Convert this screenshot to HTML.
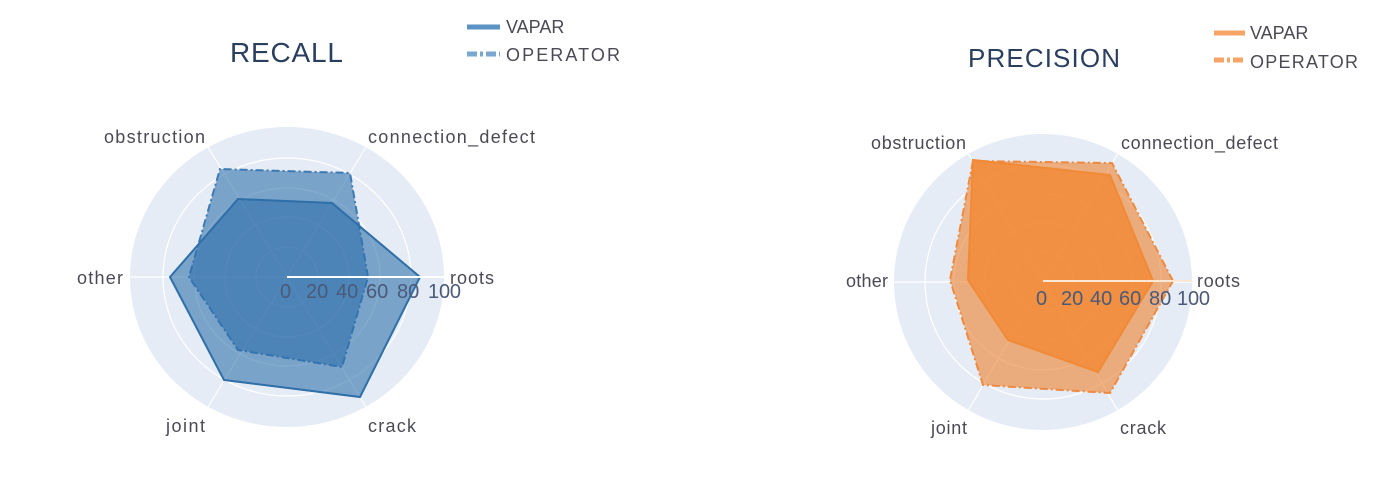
<!DOCTYPE html>
<html><head><meta charset="utf-8"><style>
html,body{margin:0;padding:0;background:#fff;}
svg{display:block;font-family:"Liberation Sans",Arial,sans-serif;}
</style></head><body>
<svg width="1394" height="480" viewBox="0 0 1394 480" xmlns="http://www.w3.org/2000/svg">
<!-- LEFT -->
<ellipse cx="287" cy="277" rx="157" ry="150" fill="#e5ecf6"/>
<g stroke="#fff" stroke-width="1.2" fill="none">
<ellipse cx="287" cy="277" rx="124" ry="119"/>
<ellipse cx="287" cy="277" rx="93" ry="89"/>
<ellipse cx="287" cy="277" rx="62" ry="60"/>
<ellipse cx="287" cy="277" rx="31" ry="30"/>
<line x1="130" y1="277" x2="444" y2="277"/>
<line x1="208" y1="147" x2="366" y2="407"/>
<line x1="366" y1="147" x2="208" y2="407"/>
</g>
<polygon points="368,277 350,173 220,169 189,277 238,350 342,367" fill="rgba(45,110,170,0.58)" stroke="#3d7ab3" stroke-width="2" stroke-dasharray="8,3,2,3"/>
<polygon points="420,277 332,203 238,199 170,277 224,380 360,397" fill="rgba(45,110,170,0.58)" stroke="#2e6fa8" stroke-width="2"/>
<line x1="287" y1="277" x2="445" y2="277" stroke="#fff" stroke-width="2"/>
<g fill="#4a5a78" font-size="20">
<text x="280" y="298">0</text><text x="306" y="298">20</text><text x="336" y="298">40</text><text x="366" y="298">60</text><text x="397" y="298">80</text><text x="428" y="298" textLength="33">100</text>
</g>
<g fill="#4a4a55" font-size="18">
<text x="104" y="143" textLength="101">obstruction</text>
<text x="368" y="143" textLength="167">connection_defect</text>
<text x="450" y="284" textLength="44">roots</text>
<text x="77" y="284" textLength="46">other</text>
<text x="166" y="432" textLength="39">joint</text>
<text x="368" y="432" textLength="48">crack</text>
</g>
<text x="230" y="62" font-size="28" fill="#2a3f5f" textLength="113">RECALL</text>
<line x1="467" y1="27" x2="500" y2="27" stroke="#5b93c4" stroke-width="5"/>
<line x1="467" y1="54" x2="500" y2="54" stroke="#7aa6cf" stroke-width="5" stroke-dasharray="10,3,3,3"/>
<g fill="#4a4a55" font-size="18"><text x="506" y="33">VAPAR</text><text x="506" y="61" textLength="114">OPERATOR</text></g>

<!-- RIGHT -->
<ellipse cx="1043" cy="282" rx="149" ry="148" fill="#e5ecf6"/>
<g stroke="#fff" stroke-width="1.2" fill="none">
<ellipse cx="1043" cy="282" rx="118" ry="117"/>
<ellipse cx="1043" cy="282" rx="89" ry="88"/>
<ellipse cx="1043" cy="282" rx="59" ry="59"/>
<ellipse cx="1043" cy="282" rx="30" ry="30"/>
<line x1="894" y1="282" x2="1192" y2="282"/>
<line x1="968" y1="153" x2="1118" y2="411"/>
<line x1="1118" y1="153" x2="968" y2="411"/>
</g>
<polygon points="1173,281 1112,163 973,161 950,280 983,385 1110,393" fill="rgba(238,130,50,0.62)" stroke="#ee8a3f" stroke-width="2" stroke-dasharray="8,3,2,3"/>
<polygon points="1153,281 1110,175 973,160 968,280 1008,340 1098,372" fill="rgba(245,130,40,0.68)" stroke="#f08a36" stroke-width="2"/>
<line x1="1043" y1="281" x2="1192" y2="281" stroke="#fde8d6" stroke-width="2"/>
<g fill="#4a5a78" font-size="20">
<text x="1036" y="305">0</text><text x="1061" y="305">20</text><text x="1090" y="305">40</text><text x="1119" y="305">60</text><text x="1149" y="305">80</text><text x="1177" y="305" textLength="33">100</text>
</g>
<g fill="#4a4a55" font-size="18">
<text x="871" y="149" textLength="95">obstruction</text>
<text x="1121" y="149" textLength="157">connection_defect</text>
<text x="1197" y="287" textLength="43">roots</text>
<text x="846" y="287" textLength="42">other</text>
<text x="931" y="434" textLength="36">joint</text>
<text x="1120" y="434" textLength="46">crack</text>
</g>
<text x="968" y="67" font-size="26" fill="#2a3f5f" textLength="152">PRECISION</text>
<line x1="1214" y1="33" x2="1245" y2="33" stroke="#f6a566" stroke-width="5"/>
<line x1="1214" y1="60" x2="1245" y2="60" stroke="#f6a566" stroke-width="5" stroke-dasharray="10,3,3,3"/>
<g fill="#4a4a55" font-size="18"><text x="1250" y="39">VAPAR</text><text x="1250" y="68" textLength="108">OPERATOR</text></g>
</svg>
</body></html>
